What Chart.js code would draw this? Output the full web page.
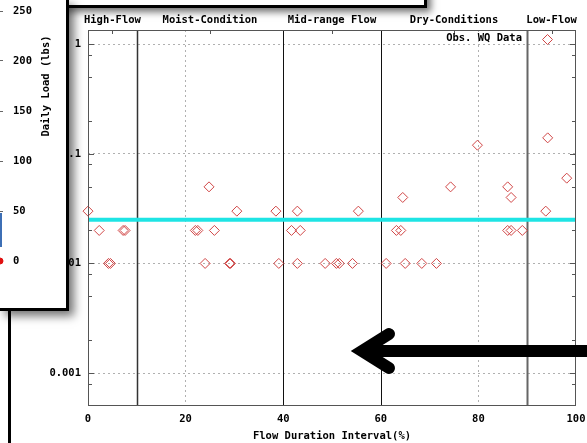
<!DOCTYPE html>
<html><head><meta charset="utf-8">
<script src="https://cdn.jsdelivr.net/npm/chart.js@4.4.1/dist/chart.umd.min.js"></script>
<style>
html,body{margin:0;padding:0;background:#fff;}
body{width:587px;height:443px;position:relative;overflow:hidden;font-family:'DejaVu Sans Mono',monospace;font-weight:bold;font-size:10.5px;color:#000;}
#main{position:absolute;left:0;top:0;z-index:1;}
#topwin{position:absolute;left:-10px;top:-28px;width:434px;height:33px;background:#fff;border-bottom:3px solid #000;border-right:3px solid #000;box-shadow:4px 4px 7px rgba(0,0,0,.55);z-index:2;overflow:hidden;}
#topwin span{position:absolute;top:17px;line-height:12px;transform:translateX(-50%);}
#inset{position:absolute;left:0;top:0;width:66px;height:308px;background:#fff;border-right:3px solid #000;border-bottom:3px solid #000;box-shadow:5px 5px 9px rgba(0,0,0,.55);overflow:hidden;z-index:3;}
#insetCanvas{position:absolute;left:-300px;top:0;}
#insetTitle{position:absolute;left:45px;top:86px;transform:translate(-50%,-50%) rotate(-90deg);white-space:nowrap;}
#vline{position:absolute;left:8px;top:311px;width:3px;height:140px;background:#000;z-index:3;}
#arrow{position:absolute;left:0;top:0;z-index:4;}
</style></head>
<body>
<canvas id="main" width="587" height="443"></canvas>
<div id="topwin"></div>
<div id="inset"><canvas id="insetCanvas" width="366" height="308"></canvas><div id="insetTitle"></div></div>
<div id="vline"></div>
<svg id="arrow" width="587" height="443"><g fill="none" stroke="#000" stroke-width="12"><line x1="362" y1="351" x2="600" y2="351"/><polyline points="389,334 362,351 389,368" stroke-linecap="round" stroke-linejoin="miter" stroke-miterlimit="10"/></g></svg>
<script>
// ---------- data ----------
const flowPct = [0,2.3,4.2,4.6,7.2,7.6,22.0,22.5,24.0,24.8,25.9,29.0,29.2,30.5,38.5,39.1,41.7,42.9,42.9,43.5,48.6,50.9,51.5,54.2,55.4,61.1,63.2,64.1,64.5,65.0,68.4,71.4,74.3,79.8,86.0,86.7,86.0,86.7,89.0,93.8,94.2,98.1];
const wqValues = [0.03,0.02,0.01,0.01,0.02,0.02,0.02,0.02,0.01,0.05,0.02,0.01,0.01,0.03,0.03,0.01,0.02,0.03,0.01,0.02,0.01,0.01,0.01,0.01,0.03,0.01,0.02,0.02,0.04,0.01,0.01,0.01,0.05,0.12,0.05,0.04,0.02,0.02,0.02,0.03,0.14,0.06];
const targetValue = 0.025;
const targetRange = [0, 100];
const zoneBounds = [10, 40, 60, 90];
const zoneNames = ['High-Flow','Moist-Condition','Mid-range Flow','Dry-Conditions','Low-Flow'];
const zoneCenters = [5, 25, 50, 75, 95];
const xTickValues = [0, 20, 40, 60, 80, 100];
const yMajorTicks = [0.001, 0.01, 0.1, 1];
const yTickLabels = ['0.001', '0.01', '0.1', '1'];
const yMinorFactors = [2, 5, 8];
const seriesLabel = 'Obs. WQ Data';
const xTitle = 'Flow Duration Interval(%)';
// inset (overlapping window)
const insetTicks = [0, 50, 100, 150, 200, 250];
const insetTitle = 'Daily Load (lbs)';
const insetLoadX = [100, 100];
const insetLoadY = [48, 14];
const insetObsX = [100];
const insetObsY = [0];
const topWinLabels = ['40', '60', '80', '100'];

// ---------- decorations from data ----------
document.getElementById('insetTitle').textContent = insetTitle;
const tw = document.getElementById('topwin');
[123, 220, 319, 417].forEach((l, i) => { const s = document.createElement('span'); s.style.left = l + 'px'; s.textContent = topWinLabels[i]; tw.appendChild(s); });

const FONT = {family: "'DejaVu Sans Mono', monospace", size: 10.5, weight: 'bold'};
Chart.defaults.font.family = FONT.family;
Chart.defaults.color = '#000';
const RED = '#d04545';
const noPad = s => { s.paddingLeft = 0; s.paddingRight = 0; s.paddingTop = 0; s.paddingBottom = 0; };

const mainPlugin = {
  id: 'mainDeco',
  beforeDatasetsDraw(chart) {
    const {ctx, chartArea: a, scales: {x}} = chart;
    ctx.save();
    const styles = [['#333', 1.5], ['#111', 1], ['#111', 1], ['#666', 2]];
    zoneBounds.forEach((b, i) => {
      const px = Math.round(x.getPixelForValue(b)) + 0.5;
      ctx.strokeStyle = styles[i][0]; ctx.lineWidth = styles[i][1];
      ctx.beginPath(); ctx.moveTo(px, a.top); ctx.lineTo(px, a.bottom); ctx.stroke();
    });
    ctx.restore();
  },
  afterDatasetsDraw(chart) {
    const {ctx, chartArea: a, scales: {x, y}} = chart;
    ctx.save();
    ctx.strokeStyle = '#555'; ctx.lineWidth = 1;
    ctx.strokeRect(a.left + 0.5, a.top + 0.5, a.right - a.left - 1, a.bottom - a.top - 1);
    const drawYTick = (v, len) => {
      const py = Math.round(y.getPixelForValue(v)) + 0.5;
      if (py < a.top || py > a.bottom) return;
      ctx.beginPath();
      ctx.moveTo(a.left, py); ctx.lineTo(a.left + len, py);
      ctx.moveTo(a.right, py); ctx.lineTo(a.right - len, py);
      ctx.stroke();
    };
    yMajorTicks.forEach(v => { drawYTick(v, 6); });
    [0.0001].concat(yMajorTicks).forEach(v => yMinorFactors.forEach(f => drawYTick(v * f, 4)));
    zoneCenters.forEach(c => {
      const px = Math.round(x.getPixelForValue(c)) + 0.5;
      ctx.beginPath(); ctx.moveTo(px, a.top); ctx.lineTo(px, a.top + 4); ctx.stroke();
    });
    // legend
    ctx.font = 'bold 10.5px ' + FONT.family;
    ctx.fillStyle = '#000'; ctx.textAlign = 'right'; ctx.textBaseline = 'middle';
    ctx.fillText(chart.data.datasets[0].label, 522, 38);
    const cx = 547.5, cy = 39.5, r = 5;
    ctx.strokeStyle = RED; ctx.lineWidth = 1;
    ctx.beginPath(); ctx.moveTo(cx, cy - r); ctx.lineTo(cx + r, cy); ctx.lineTo(cx, cy + r); ctx.lineTo(cx - r, cy); ctx.closePath(); ctx.stroke();
    ctx.restore();
  }
};

new Chart(document.getElementById('main'), {
  data: {
    datasets: [
      {type: 'scatter', label: seriesLabel, data: flowPct.map((f, i) => ({x: f, y: wqValues[i]})), clip: false,
       pointStyle: 'rectRot', pointRadius: 5, pointBorderWidth: 1, borderColor: RED, pointBorderColor: RED, backgroundColor: 'rgba(0,0,0,0)', pointBackgroundColor: 'rgba(0,0,0,0)', pointHoverRadius: 5},
      {type: 'line', label: 'Target', data: targetRange.map(v => ({x: v, y: targetValue})),
       borderColor: '#1ee4e4', borderWidth: 4, pointRadius: 0, fill: false}
    ]
  },
  options: {
    responsive: false, animation: false, devicePixelRatio: 1,
    layout: {autoPadding: false, padding: {left: 0, right: 11, top: 0, bottom: 0}},
    plugins: {legend: {display: false}, tooltip: {enabled: false}},
    scales: {
      x: {type: 'linear', position: 'bottom', min: 0, max: 100,
        afterBuildTicks: s => { s.ticks = xTickValues.map(v => ({value: v})); },
        afterFit: s => { s.height = 37; noPad(s); },
        ticks: {font: FONT, color: '#000', padding: 7, maxRotation: 0, autoSkip: false},
        grid: {drawTicks: false, color: c => (c.tick && (c.tick.value === 20 || c.tick.value === 80)) ? '#b0b0b0' : 'rgba(0,0,0,0)', lineWidth: 1},
        border: {display: false, dash: [2, 3]},
        title: {display: true, text: xTitle, font: FONT, color: '#000', padding: {top: 0, bottom: 0}}
      },
      x2: {type: 'linear', position: 'top', min: 0, max: 100,
        afterBuildTicks: s => { s.ticks = zoneCenters.map(v => ({value: v})); },
        afterFit: s => { s.height = 30; noPad(s); },
        ticks: {font: FONT, color: '#000', padding: 3, maxRotation: 0, autoSkip: false, callback: (v, i) => zoneNames[i]},
        grid: {display: false, drawTicks: false}, border: {display: false}
      },
      y: {type: 'logarithmic', position: 'left', min: 0.0005, max: 1.35,
        afterBuildTicks: s => { s.ticks = yMajorTicks.map(v => ({value: v, major: true})); },
        afterFit: s => { s.width = 88; noPad(s); },
        ticks: {font: FONT, color: '#000', padding: 7, autoSkip: false, callback: v => yTickLabels[yMajorTicks.indexOf(v)]},
        grid: {drawTicks: false, color: '#b0b0b0', lineWidth: 1},
        border: {display: false, dash: [2, 3]}
      }
    }
  },
  plugins: [mainPlugin]
});

new Chart(document.getElementById('insetCanvas'), {
  type: 'line',
  data: {
    datasets: [
      {label: 'Load', data: insetLoadX.map((v, i) => ({x: v, y: insetLoadY[i]})), borderColor: '#3d6fb5', borderWidth: 4, pointRadius: 0, clip: false},
      {label: 'Obs', data: insetObsX.map((v, i) => ({x: v, y: insetObsY[i]})), showLine: false, pointRadius: 3, pointBackgroundColor: '#e01010', pointBorderColor: '#e01010', clip: false}
    ]
  },
  options: {
    responsive: false, animation: false, devicePixelRatio: 1,
    layout: {autoPadding: false, padding: {left: 0, right: 0, top: 11, bottom: 47}},
    plugins: {legend: {display: false}, tooltip: {enabled: false}},
    scales: {
      x: {type: 'linear', display: false, min: 0, max: 100},
      y: {position: 'right', min: 0, max: 250,
        afterBuildTicks: s => { s.ticks = insetTicks.map(v => ({value: v})); },
        afterFit: s => { s.width = 66; noPad(s); },
        ticks: {font: FONT, color: '#000', padding: 10, autoSkip: false},
        grid: {drawOnChartArea: false, tickLength: 3, color: '#666'},
        border: {display: false}
      }
    }
  }
});
</script>
</body></html>
